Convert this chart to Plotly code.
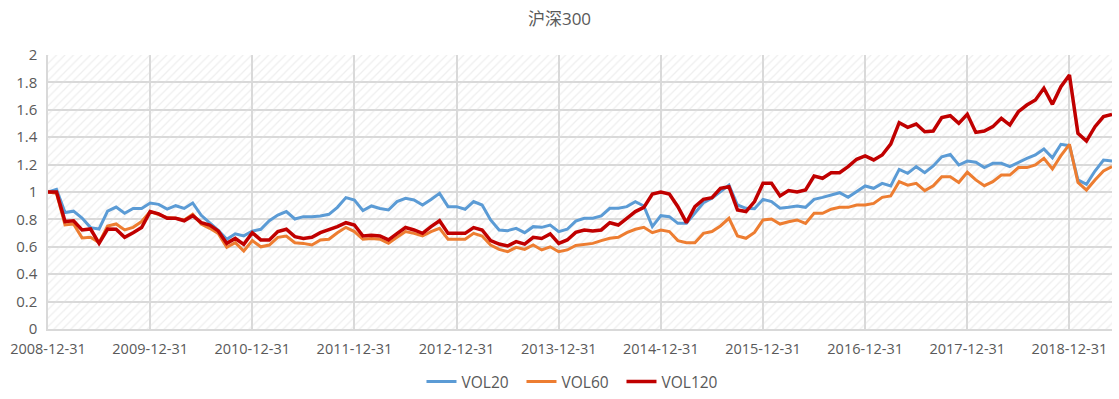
import pandas as pd
import plotly.graph_objects as go

title = "沪深300"
dates = [d.strftime("%Y-%m-%d") for d in pd.date_range("2008-12-31", periods=126, freq="ME")]
tick_labels = dates[::12]

vol20 = [1.00, 1.02, 0.85, 0.86, 0.81, 0.74, 0.73, 0.86, 0.89, 0.845,
         0.88, 0.88, 0.92, 0.91, 0.875, 0.90, 0.88, 0.92, 0.83, 0.776,
         0.72, 0.655, 0.695, 0.68, 0.715, 0.728, 0.79, 0.832, 0.857, 0.803,
         0.82, 0.82, 0.825, 0.837, 0.888, 0.959, 0.942, 0.864, 0.898, 0.88,
         0.869, 0.93, 0.954, 0.942, 0.905, 0.946, 0.99, 0.893, 0.893, 0.874,
         0.93, 0.905, 0.796, 0.723, 0.718, 0.735, 0.703, 0.747, 0.742, 0.759,
         0.711, 0.728, 0.787, 0.808, 0.808, 0.825, 0.881, 0.881, 0.893, 0.93,
         0.898, 0.747, 0.827, 0.82, 0.771, 0.771, 0.845, 0.922, 0.954, 1.0,
         1.05, 0.905, 0.881, 0.878, 0.946, 0.93, 0.881, 0.888, 0.898, 0.888,
         0.946, 0.961, 0.978, 0.995, 0.961, 1.0, 1.044, 1.027, 1.063, 1.044,
         1.165, 1.136, 1.185, 1.141, 1.19, 1.257, 1.274, 1.197, 1.226, 1.217,
         1.178, 1.209, 1.209, 1.185, 1.217, 1.246, 1.27, 1.314, 1.25, 1.348,
         1.338, 1.088, 1.056, 1.153, 1.233, 1.226]

vol60 = [1.00, 0.99, 0.76, 0.767, 0.665, 0.669, 0.63, 0.752, 0.767, 0.723,
         0.742, 0.784, 0.857, 0.837, 0.813, 0.808, 0.796, 0.837, 0.767, 0.735,
         0.698, 0.597, 0.63, 0.569, 0.645, 0.60, 0.613, 0.669, 0.679, 0.63,
         0.625, 0.613, 0.65, 0.655, 0.703, 0.742, 0.711, 0.655, 0.661, 0.655,
         0.625, 0.669, 0.711, 0.698, 0.679, 0.711, 0.735, 0.655, 0.655, 0.655,
         0.698, 0.679, 0.613, 0.581, 0.564, 0.596, 0.581, 0.613, 0.577, 0.60,
         0.564, 0.577, 0.61, 0.618, 0.625, 0.645, 0.662, 0.669, 0.703, 0.728,
         0.742, 0.703, 0.723, 0.711, 0.645, 0.63, 0.63, 0.698, 0.711, 0.752,
         0.808, 0.679, 0.662, 0.705, 0.796, 0.803, 0.766, 0.783, 0.796, 0.771,
         0.844, 0.844, 0.874, 0.888, 0.888, 0.905, 0.905, 0.917, 0.961, 0.971,
         1.075, 1.05, 1.063, 1.01, 1.045, 1.112, 1.112, 1.07, 1.144, 1.088,
         1.046, 1.075, 1.124, 1.124, 1.178, 1.178, 1.197, 1.246, 1.168, 1.265,
         1.348, 1.07, 1.014, 1.088, 1.153, 1.185]

vol120 = [1.00, 1.00, 0.784, 0.79, 0.723, 0.73, 0.625, 0.73, 0.728, 0.669,
          0.703, 0.74, 0.857, 0.84, 0.808, 0.808, 0.79, 0.827, 0.776, 0.759,
          0.716, 0.625, 0.661, 0.618, 0.703, 0.65, 0.65, 0.711, 0.728, 0.674,
          0.661, 0.669, 0.703, 0.723, 0.747, 0.776, 0.759, 0.679, 0.684, 0.679,
          0.65, 0.696, 0.741, 0.723, 0.698, 0.747, 0.79, 0.698, 0.698, 0.698,
          0.74, 0.723, 0.645, 0.62, 0.606, 0.638, 0.62, 0.669, 0.661, 0.694,
          0.625, 0.65, 0.705, 0.723, 0.716, 0.723, 0.776, 0.759, 0.808, 0.857,
          0.888, 0.985, 1.0, 0.985, 0.893, 0.776, 0.893, 0.946, 0.959, 1.027,
          1.039, 0.869, 0.857, 0.93, 1.063, 1.063, 0.971, 1.01, 1.0, 1.015,
          1.117, 1.1, 1.141, 1.141, 1.185, 1.239, 1.263, 1.234, 1.27, 1.35,
          1.506, 1.472, 1.496, 1.44, 1.445, 1.543, 1.557, 1.501, 1.567, 1.435,
          1.445, 1.477, 1.538, 1.489, 1.586, 1.635, 1.672, 1.757, 1.64, 1.769,
          1.854, 1.428, 1.372, 1.477, 1.55, 1.567]

series_names = ["VOL20", "VOL60", "VOL120"]
series_colors = ["#5B9BD5", "#ED7D31", "#C00000"]
series_widths = [3, 3, 3.5]

FONT = "Open Sans, Noto Sans CJK SC, sans-serif"
GREY = "#595959"
GRID = "#d9d9d9"

fig = go.Figure()

# hatched plot-area background
fig.add_trace(go.Scatter(
    x=[dates[0], dates[-1], dates[-1], dates[0], dates[0]],
    y=[0, 0, 2, 2, 0],
    mode="lines", fill="toself",
    line=dict(width=0, color="rgba(0,0,0,0)"),
    fillcolor="rgba(0,0,0,0)",
    fillpattern=dict(shape="/", fgcolor="#dddddd", bgcolor="rgba(0,0,0,0)",
                     size=6, solidity=0.2),
    hoverinfo="skip", showlegend=False,
))

for name, vals, col, w in zip(series_names, [vol20, vol60, vol120], series_colors, series_widths):
    fig.add_trace(go.Scatter(
        x=dates, y=vals, mode="lines", name=name,
        line=dict(color=col, width=w),
    ))

fig.update_layout(
    width=1119, height=399,
    margin=dict(l=48, r=7, t=55, b=70, autoexpand=False),
    paper_bgcolor="white", plot_bgcolor="white",
    font=dict(family=FONT, color=GREY, size=14),
    title=dict(text=title, x=0.5, xanchor="center", y=0.952, yref="container",
               yanchor="middle", font=dict(size=17, color=GREY)),
    legend=dict(orientation="h", x=0.492, xanchor="center", y=-0.193, yanchor="middle",
                font=dict(size=15.5, color=GREY), bgcolor="rgba(0,0,0,0)",
                entrywidth=55, entrywidthmode="pixels"),
    showlegend=True,
)

fig.update_xaxes(
    type="category", categoryorder="array", categoryarray=dates,
    range=[0, len(dates) - 1], automargin=False,
    tickmode="array", tickvals=tick_labels, ticktext=tick_labels,
    showgrid=True, gridcolor=GRID, gridwidth=1.5,
    showline=True, linecolor=GRID, linewidth=1.5,
    ticks="outside", ticklen=6, tickcolor="rgba(0,0,0,0)",
    tickfont=dict(size=14.5, color=GREY), zeroline=False,
)
fig.update_yaxes(
    range=[0, 2], dtick=0.2, tick0=0, automargin=False,
    showgrid=True, gridcolor=GRID, gridwidth=1.5,
    showline=True, linecolor=GRID, linewidth=1.5,
    ticks="outside", ticklen=6, tickcolor="rgba(0,0,0,0)",
    tickfont=dict(size=15, color=GREY), zeroline=False,
)

fig.write_html("out.html", config={"displayModeBar": False},
               post_script="document.body.style.margin='0px';")
